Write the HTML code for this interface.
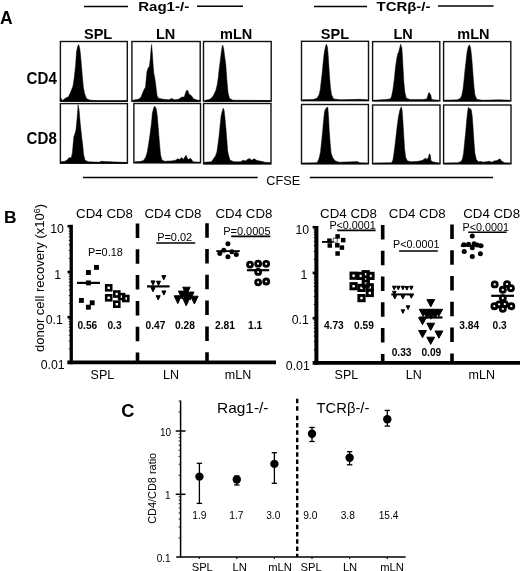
<!DOCTYPE html><html><head><meta charset="utf-8"><title>Figure</title>
<style>html,body{margin:0;padding:0;background:#fff;}svg{display:block;will-change:transform;}text{font-family:"Liberation Sans",sans-serif;fill:#000;}line{stroke:#000;}</style></head><body>
<svg width="520" height="571" viewBox="0 0 520 571">
<text x="0.0" y="24.4" font-size="17.5" font-weight="bold">A</text>
<line x1="84" y1="6.5" x2="128" y2="6.5" stroke-width="1.5"/>
<text x="138.2" y="11.1" font-size="13.6" font-weight="bold" textLength="51" lengthAdjust="spacingAndGlyphs">Rag1-/-</text>
<line x1="197" y1="6.2" x2="243" y2="6.2" stroke-width="1.5"/>
<line x1="314" y1="6.5" x2="367" y2="6.5" stroke-width="1.5"/>
<text x="376.5" y="11.4" font-size="13.6" font-weight="bold" textLength="54" lengthAdjust="spacingAndGlyphs">TCR&#946;-/-</text>
<line x1="438" y1="6.0" x2="493.5" y2="6.0" stroke-width="1.5"/>
<text x="84" y="39.4" font-size="14.5" font-weight="bold">SPL</text>
<text x="156" y="39.4" font-size="14.5" font-weight="bold">LN</text>
<text x="220" y="39.4" font-size="14.5" font-weight="bold">mLN</text>
<text x="320.8" y="39.4" font-size="14.5" font-weight="bold">SPL</text>
<text x="393.5" y="39.4" font-size="14.5" font-weight="bold">LN</text>
<text x="457.3" y="39.4" font-size="14.5" font-weight="bold">mLN</text>
<text x="26.6" y="83.7" font-size="15.8" font-weight="bold" textLength="30.2" lengthAdjust="spacingAndGlyphs">CD4</text>
<text x="26.6" y="143.5" font-size="15.8" font-weight="bold" textLength="30.2" lengthAdjust="spacingAndGlyphs">CD8</text>
<rect x="60.4" y="41.5" width="66.9" height="59.7" fill="none" stroke="#111" stroke-width="1.4"/>
<rect x="131.9" y="41.5" width="68.3" height="59.7" fill="none" stroke="#111" stroke-width="1.4"/>
<rect x="203.5" y="41.5" width="67.7" height="59.7" fill="none" stroke="#111" stroke-width="1.4"/>
<rect x="60.4" y="103.6" width="67.0" height="59.6" fill="none" stroke="#111" stroke-width="1.4"/>
<rect x="133.9" y="103.5" width="66.6" height="59.3" fill="none" stroke="#111" stroke-width="1.4"/>
<rect x="203.6" y="103.5" width="67.4" height="60.4" fill="none" stroke="#111" stroke-width="1.4"/>
<rect x="301.5" y="41.3" width="67.0" height="59.3" fill="none" stroke="#111" stroke-width="1.4"/>
<rect x="372.6" y="41.6" width="67.2" height="59.3" fill="none" stroke="#111" stroke-width="1.4"/>
<rect x="443.6" y="41.6" width="67.2" height="59.4" fill="none" stroke="#111" stroke-width="1.4"/>
<rect x="301.5" y="104.5" width="66.9" height="59.3" fill="none" stroke="#111" stroke-width="1.4"/>
<rect x="372.6" y="105.0" width="67.4" height="58.8" fill="none" stroke="#111" stroke-width="1.4"/>
<rect x="443.6" y="105.0" width="67.4" height="58.8" fill="none" stroke="#111" stroke-width="1.4"/>
<line x1="83" y1="177.5" x2="257.7" y2="177.5" stroke-width="1.5"/>
<text x="266.3" y="185.2" font-size="12.7">CFSE</text>
<line x1="309.8" y1="177.5" x2="493" y2="177.5" stroke-width="1.5"/>
<path d="M60.4,101.2 L60.4,97.4 L62.4,100.5 L65.7,98 L68.5,96.8 L70.7,91.9 L72.9,86.4 L74.3,77.5 L75.6,65.4 L76.5,52.1 L77.6,46.6 L78.7,44.6 L79.8,48.8 L80.6,55.5 L81.3,64 L81.8,70 L82.5,78.6 L83.3,86.4 L84.4,93 L86.4,98.5 L90,100.2 L98,100.7 L127,100.7 L127,101.2 Z" fill="#000" stroke="#000" stroke-width="0.5" stroke-linejoin="round"/>
<path d="M132.8,101.2 L132.8,100.2 L138.3,99.3 L140.8,97.5 L142.5,93.3 L143.9,89.9 L145.5,87.1 L146.3,78.8 L146.9,71.9 L148,68.4 L149.4,66.3 L150.4,58 L151.1,48.3 L151.6,44.4 L152.4,53.9 L153.1,64.9 L153.8,73.2 L154.9,78.8 L156,87.1 L157,95.4 L158.4,98.2 L163.2,99.3 L168.8,99.8 L171.5,98.4 L174.3,99.8 L178.5,99.3 L181.9,97.1 L184.3,97.1 L185.4,93.3 L186.5,90.6 L187.9,90.6 L188.9,94 L190.2,94.7 L191.6,96.1 L193.7,98.9 L197.9,100.2 L200,100.5 L200,101.2 Z" fill="#000" stroke="#000" stroke-width="0.5" stroke-linejoin="round"/>
<path d="M205.2,101.2 L205.2,100.2 L209.3,99.6 L212.1,97.5 L214.2,94 L216,89.9 L217.3,84.3 L218.3,77.4 L219,70.5 L220.1,62.2 L221.1,53.9 L222.1,46.9 L222.7,45.1 L223.6,48.3 L224.5,55.2 L225.7,63.5 L226.3,71.9 L227,81.6 L228,92.6 L229.4,98.2 L232.9,100.2 L270.3,100.5 L270.3,101.2 Z" fill="#000" stroke="#000" stroke-width="0.5" stroke-linejoin="round"/>
<path d="M60.8,163.2 L60.8,161.8 L64.9,161.3 L67.7,159.5 L69.1,157.4 L70.5,158.1 L71.6,156.7 L72.5,151.9 L73.2,143.6 L73.9,136.6 L74.9,133.9 L76,129.7 L77.1,118.6 L78.1,104.8 L79.1,110.3 L79.9,120 L80.9,129.7 L81.8,138 L82.7,144.9 L83.6,154.6 L85,160.2 L88.5,161.8 L99.6,162.2 L100.9,161.3 L105.1,161.6 L127.3,162.5 L127.3,163.2 Z" fill="#000" stroke="#000" stroke-width="0.5" stroke-linejoin="round"/>
<path d="M134.8,162.8 L134.8,161.8 L141.1,161.3 L143.9,160.2 L145.9,156.7 L147.3,151.9 L148.7,143.6 L150.1,133.9 L151.5,122.8 L152.4,113.1 L153.8,107.5 L154.9,106.2 L156.3,108.9 L157.4,117.2 L158.4,129.7 L159.4,142.2 L160.5,154.6 L161.9,159.9 L164.6,161.3 L171.5,160.9 L175.7,160.2 L177.8,158.8 L179.9,159.5 L181.5,157.4 L183.3,159.5 L185.1,156.7 L186.1,155.3 L187.5,158.8 L188.9,159.5 L190.2,158.1 L191.6,159.5 L193,161.8 L199.9,162.2 L199.9,162.8 Z" fill="#000" stroke="#000" stroke-width="0.5" stroke-linejoin="round"/>
<path d="M204.5,163.9 L204.5,162.2 L211.4,161.8 L213.5,158.8 L215.5,156 L216.9,151.9 L217.9,144.9 L219,136.6 L220.1,125.5 L221.1,115.9 L222.1,111.7 L223.2,108.2 L224.1,110.3 L225,118.6 L225.9,128.3 L226.8,139.4 L227.6,150.5 L228.7,156 L230.1,160.2 L234.2,161.8 L241.2,161.8 L242.6,160.2 L245.3,160.9 L247.4,159.5 L249.5,158.5 L251.6,160.2 L254.3,158.8 L256.4,160.2 L259.2,160.9 L262.6,161.6 L264.7,162.2 L270.3,162.5 L270.3,163.9 Z" fill="#000" stroke="#000" stroke-width="0.5" stroke-linejoin="round"/>
<path d="M302.5,100.6 L302.5,99.8 L312.9,99.6 L317,98.2 L319.1,94.7 L320.2,89.9 L321.2,81.6 L322.3,71.9 L323.2,62.2 L324.3,52.5 L325.6,46.2 L326.4,44.2 L327.4,46.9 L328.1,53.9 L328.8,64.9 L329.5,76 L330.4,87.1 L331.5,94.7 L333.6,98.9 L340.5,99.8 L359.9,99.3 L367.6,99.8 L367.6,100.6 Z" fill="#000" stroke="#000" stroke-width="0.5" stroke-linejoin="round"/>
<path d="M373.5,100.9 L373.5,100.2 L385.2,99.6 L390.1,98.9 L391.5,96.8 L392.9,89.9 L394.2,80.2 L395.3,69.1 L396.6,59.4 L397.7,53.9 L398.8,51.8 L399.8,47.6 L400.7,44.2 L401.9,48.3 L402.5,58 L403.2,70.5 L403.9,82.9 L404.9,92.6 L406.3,98.2 L410.2,99.6 L422.6,99.6 L426.8,98.9 L427.9,95.4 L428.9,92.6 L429.8,93.3 L430.9,95.4 L431.6,99.6 L438.6,100.2 L438.6,100.9 Z" fill="#000" stroke="#000" stroke-width="0.5" stroke-linejoin="round"/>
<path d="M444.5,101.0 L444.5,100.2 L457.6,99.8 L460.4,98.2 L461.8,95.4 L462.9,89.9 L463.9,81.6 L464.8,71.9 L465.9,62.2 L467,52.5 L468.1,46.9 L469.4,44.8 L470.5,47.6 L471.5,55.2 L472.3,64.9 L473.1,76 L474,87.1 L474.9,94.7 L476.7,99.3 L482.6,100.2 L499.2,99.8 L509.6,100.2 L509.6,101.0 Z" fill="#000" stroke="#000" stroke-width="0.5" stroke-linejoin="round"/>
<path d="M302.5,163.8 L302.5,162.9 L317,162.7 L318.4,160.2 L319.5,156.7 L320.5,151.9 L321.4,143.6 L322.5,132.5 L323.5,121.4 L324.5,111.7 L325.6,108.9 L326.7,107.5 L327.8,107.3 L328.5,115.9 L329.2,129.7 L330.2,143.6 L331.1,153.2 L332.9,158.1 L335.3,160.9 L339.2,162.2 L353,161.8 L357.2,161.6 L359.9,162.7 L367.6,162.9 L367.6,163.8 Z" fill="#000" stroke="#000" stroke-width="0.5" stroke-linejoin="round"/>
<path d="M373.5,163.8 L373.5,162.9 L391.5,162.7 L392.9,160.2 L393.8,154.6 L394.9,146.3 L396,136.6 L397.1,126.9 L398.4,117.2 L399.8,110.3 L401.2,106.8 L402.1,110.3 L403,122.8 L403.8,136.6 L404.6,149.1 L405.7,157.4 L407.4,160.9 L411.6,161.8 L418.5,161.3 L422.6,160.2 L424.7,158.8 L425.7,158.1 L426.8,159.5 L428.2,158.1 L429.3,153.9 L430.2,154.6 L430.9,160.2 L432.3,161.8 L439.3,162.9 L439.3,163.8 Z" fill="#000" stroke="#000" stroke-width="0.5" stroke-linejoin="round"/>
<path d="M444.5,163.8 L444.5,162.9 L457.6,162.7 L461.1,161.6 L462.5,158.8 L463.6,153.2 L464.5,143.6 L465.7,132.5 L466.6,121.4 L467.6,111.7 L468.4,107.5 L469.4,108.2 L470.4,108.9 L471.2,109.6 L472.2,115.9 L473.1,128.3 L474,142.2 L474.9,153.2 L476.3,159.5 L478.4,161.8 L481.9,161.6 L482.8,162.2 L489.5,161.3 L491.6,162.2 L494.3,160.9 L497.1,160.5 L499.9,158.8 L502,161.6 L504.7,162.7 L510.3,162.9 L510.3,163.8 Z" fill="#000" stroke="#000" stroke-width="0.5" stroke-linejoin="round"/>
<text x="4.1" y="222.5" font-size="17.4" font-weight="bold">B</text>
<text transform="translate(44.2,352) rotate(-90)" font-size="12.6" textLength="148" lengthAdjust="spacingAndGlyphs">donor cell recovery (x10<tspan dy="-4.5" font-size="8.5">6</tspan><tspan dy="4.5">)</tspan></text>
<line x1="71.25" y1="224.8" x2="71.25" y2="364.2" stroke-width="3.3"/>
<line x1="67.3" y1="362.3" x2="276" y2="362.3" stroke-width="3.8"/>
<line x1="316.4" y1="226.0" x2="316.4" y2="364.7" stroke-width="4.0"/>
<line x1="312.6" y1="362.8" x2="520" y2="362.8" stroke-width="3.8"/>
<line x1="67.5" y1="226.2" x2="71" y2="226.2" stroke-width="2.6"/>
<line x1="67.5" y1="272" x2="71" y2="272" stroke-width="2.6"/>
<line x1="67.5" y1="317.2" x2="71" y2="317.2" stroke-width="2.6"/>
<line x1="312.6" y1="227.2" x2="316" y2="227.2" stroke-width="2.6"/>
<line x1="312.6" y1="272.9" x2="316" y2="272.9" stroke-width="2.6"/>
<line x1="312.6" y1="318.2" x2="316" y2="318.2" stroke-width="2.6"/>
<line x1="68.8" y1="258.393444195988" x2="70" y2="258.393444195988" stroke-width="1.0"/>
<line x1="68.8" y1="250.43411928667126" x2="70" y2="250.43411928667126" stroke-width="1.0"/>
<line x1="68.8" y1="244.7868883919761" x2="70" y2="244.7868883919761" stroke-width="1.0"/>
<line x1="68.8" y1="240.40655580401193" x2="70" y2="240.40655580401193" stroke-width="1.0"/>
<line x1="68.8" y1="236.82756348265931" x2="70" y2="236.82756348265931" stroke-width="1.0"/>
<line x1="68.8" y1="233.8015685913556" x2="70" y2="233.8015685913556" stroke-width="1.0"/>
<line x1="68.8" y1="231.18033258796416" x2="70" y2="231.18033258796416" stroke-width="1.0"/>
<line x1="68.8" y1="228.86823857334252" x2="70" y2="228.86823857334252" stroke-width="1.0"/>
<line x1="68.8" y1="303.593444195988" x2="70" y2="303.593444195988" stroke-width="1.0"/>
<line x1="68.8" y1="295.63411928667125" x2="70" y2="295.63411928667125" stroke-width="1.0"/>
<line x1="68.8" y1="289.9868883919761" x2="70" y2="289.9868883919761" stroke-width="1.0"/>
<line x1="68.8" y1="285.6065558040119" x2="70" y2="285.6065558040119" stroke-width="1.0"/>
<line x1="68.8" y1="282.0275634826593" x2="70" y2="282.0275634826593" stroke-width="1.0"/>
<line x1="68.8" y1="279.0015685913556" x2="70" y2="279.0015685913556" stroke-width="1.0"/>
<line x1="68.8" y1="276.3803325879641" x2="70" y2="276.3803325879641" stroke-width="1.0"/>
<line x1="68.8" y1="274.0682385733425" x2="70" y2="274.0682385733425" stroke-width="1.0"/>
<line x1="68.8" y1="348.793444195988" x2="70" y2="348.793444195988" stroke-width="1.0"/>
<line x1="68.8" y1="340.83411928667124" x2="70" y2="340.83411928667124" stroke-width="1.0"/>
<line x1="68.8" y1="335.1868883919761" x2="70" y2="335.1868883919761" stroke-width="1.0"/>
<line x1="68.8" y1="330.8065558040119" x2="70" y2="330.8065558040119" stroke-width="1.0"/>
<line x1="68.8" y1="327.22756348265926" x2="70" y2="327.22756348265926" stroke-width="1.0"/>
<line x1="68.8" y1="324.20156859135557" x2="70" y2="324.20156859135557" stroke-width="1.0"/>
<line x1="68.8" y1="321.5803325879641" x2="70" y2="321.5803325879641" stroke-width="1.0"/>
<line x1="68.8" y1="319.2682385733425" x2="70" y2="319.2682385733425" stroke-width="1.0"/>
<line x1="313.8" y1="259.293444195988" x2="315" y2="259.293444195988" stroke-width="1.0"/>
<line x1="313.8" y1="251.33411928667124" x2="315" y2="251.33411928667124" stroke-width="1.0"/>
<line x1="313.8" y1="245.68688839197608" x2="315" y2="245.68688839197608" stroke-width="1.0"/>
<line x1="313.8" y1="241.3065558040119" x2="315" y2="241.3065558040119" stroke-width="1.0"/>
<line x1="313.8" y1="237.7275634826593" x2="315" y2="237.7275634826593" stroke-width="1.0"/>
<line x1="313.8" y1="234.70156859135557" x2="315" y2="234.70156859135557" stroke-width="1.0"/>
<line x1="313.8" y1="232.08033258796414" x2="315" y2="232.08033258796414" stroke-width="1.0"/>
<line x1="313.8" y1="229.7682385733425" x2="315" y2="229.7682385733425" stroke-width="1.0"/>
<line x1="313.8" y1="304.49344419598805" x2="315" y2="304.49344419598805" stroke-width="1.0"/>
<line x1="313.8" y1="296.5341192866713" x2="315" y2="296.5341192866713" stroke-width="1.0"/>
<line x1="313.8" y1="290.88688839197613" x2="315" y2="290.88688839197613" stroke-width="1.0"/>
<line x1="313.8" y1="286.50655580401195" x2="315" y2="286.50655580401195" stroke-width="1.0"/>
<line x1="313.8" y1="282.9275634826593" x2="315" y2="282.9275634826593" stroke-width="1.0"/>
<line x1="313.8" y1="279.9015685913556" x2="315" y2="279.9015685913556" stroke-width="1.0"/>
<line x1="313.8" y1="277.28033258796415" x2="315" y2="277.28033258796415" stroke-width="1.0"/>
<line x1="313.8" y1="274.96823857334255" x2="315" y2="274.96823857334255" stroke-width="1.0"/>
<line x1="313.8" y1="349.69344419598804" x2="315" y2="349.69344419598804" stroke-width="1.0"/>
<line x1="313.8" y1="341.7341192866713" x2="315" y2="341.7341192866713" stroke-width="1.0"/>
<line x1="313.8" y1="336.0868883919761" x2="315" y2="336.0868883919761" stroke-width="1.0"/>
<line x1="313.8" y1="331.70655580401194" x2="315" y2="331.70655580401194" stroke-width="1.0"/>
<line x1="313.8" y1="328.1275634826593" x2="315" y2="328.1275634826593" stroke-width="1.0"/>
<line x1="313.8" y1="325.1015685913556" x2="315" y2="325.1015685913556" stroke-width="1.0"/>
<line x1="313.8" y1="322.48033258796414" x2="315" y2="322.48033258796414" stroke-width="1.0"/>
<line x1="313.8" y1="320.16823857334253" x2="315" y2="320.16823857334253" stroke-width="1.0"/>
<text x="63.9" y="232.8" font-size="12.3" text-anchor="end">10</text>
<text x="61.0" y="278.6" font-size="12.3" text-anchor="end">1</text>
<text x="62.9" y="323.8" font-size="12.3" text-anchor="end">0.1</text>
<text x="64.6" y="369.0" font-size="12.3" text-anchor="end">0.01</text>
<text x="309.1" y="233.8" font-size="12.3" text-anchor="end">10</text>
<text x="307.3" y="279.4" font-size="12.3" text-anchor="end">1</text>
<text x="308.9" y="324.4" font-size="12.3" text-anchor="end">0.1</text>
<text x="309.8" y="369.5" font-size="12.3" text-anchor="end">0.01</text>
<line x1="137.5" y1="223.5" x2="137.5" y2="361" stroke-width="3.6" stroke-dasharray="14.5 11.3"/>
<line x1="207.0" y1="223.2" x2="207.0" y2="361" stroke-width="3.6" stroke-dasharray="14.5 11.3"/>
<line x1="382.7" y1="224.9" x2="382.7" y2="361" stroke-width="3.6" stroke-dasharray="14.5 11.3"/>
<line x1="452.0" y1="224.4" x2="452.0" y2="361" stroke-width="3.6" stroke-dasharray="14.5 11.3"/>
<text x="76.1" y="217.9" font-size="13.3">CD4 CD8</text>
<text x="144.5" y="217.9" font-size="13.3">CD4 CD8</text>
<text x="215.5" y="217.9" font-size="13.3">CD4 CD8</text>
<text x="320.1" y="218.1" font-size="13.3">CD4 CD8</text>
<text x="388.8" y="218.1" font-size="13.3">CD4 CD8</text>
<text x="463.20000000000005" y="218.1" font-size="13.3">CD4 CD8</text>
<text x="88.0" y="255.9" font-size="10.9">P=0.18</text>
<text x="157.2" y="241.0" font-size="10.95">P=0.02</text>
<line x1="156.3" y1="243.0" x2="195.3" y2="243.0" stroke-width="1.6"/>
<text x="223.2" y="234.8" font-size="11.0">P=0.0005</text>
<line x1="231.2" y1="236.4" x2="270.3" y2="236.4" stroke-width="1.6"/>
<text x="329.4" y="228.6" font-size="10.75">P&lt;0.0001</text>
<line x1="337.2" y1="230.4" x2="375.6" y2="230.4" stroke-width="1.6"/>
<text x="393.1" y="247.6" font-size="10.75">P&lt;0.0001</text>
<line x1="399.1" y1="251.0" x2="437.8" y2="251.0" stroke-width="1.6"/>
<text x="462.6" y="230.5" font-size="10.8">P&lt;0.0001</text>
<line x1="468.2" y1="232.2" x2="506.5" y2="232.2" stroke-width="1.6"/>
<text x="77.4" y="328.9" font-size="10.2" font-weight="bold">0.56</text>
<text x="107.4" y="328.9" font-size="10.2" font-weight="bold">0.3</text>
<text x="145.5" y="328.9" font-size="10.2" font-weight="bold">0.47</text>
<text x="175.0" y="328.9" font-size="10.2" font-weight="bold">0.28</text>
<text x="215.0" y="328.9" font-size="10.2" font-weight="bold">2.81</text>
<text x="248.0" y="328.9" font-size="10.2" font-weight="bold">1.1</text>
<text x="323.9" y="329.0" font-size="10.2" font-weight="bold">4.73</text>
<text x="354.1" y="329.0" font-size="10.2" font-weight="bold">0.59</text>
<text x="391.7" y="356.1" font-size="10.2" font-weight="bold">0.33</text>
<text x="421.4" y="356.1" font-size="10.2" font-weight="bold">0.09</text>
<text x="459.3" y="329.0" font-size="10.2" font-weight="bold">3.84</text>
<text x="492.5" y="329.0" font-size="10.2" font-weight="bold">0.3</text>
<text x="90.6" y="379.2" font-size="12.5">SPL</text>
<text x="163.0" y="379.2" font-size="12.5">LN</text>
<text x="224.8" y="379.2" font-size="12.5">mLN</text>
<text x="334.6" y="379.4" font-size="12.5">SPL</text>
<text x="405.8" y="379.4" font-size="12.5">LN</text>
<text x="468.6" y="379.4" font-size="12.5">mLN</text>
<line x1="77" y1="282.9" x2="99.9" y2="282.9" stroke-width="2.2"/>
<rect x="94.05" y="264.95" width="4.9" height="4.9" fill="#000"/>
<rect x="85.95" y="270.05" width="4.9" height="4.9" fill="#000"/>
<rect x="85.95" y="280.45" width="4.9" height="4.9" fill="#000"/>
<rect x="78.95" y="297.95" width="4.9" height="4.9" fill="#000"/>
<rect x="89.75" y="300.35" width="4.9" height="4.9" fill="#000"/>
<rect x="85.95" y="304.75" width="4.9" height="4.9" fill="#000"/>
<rect x="106.20" y="285.30" width="5.00" height="5.00" fill="none" stroke="#000" stroke-width="2.6"/>
<rect x="106.20" y="295.30" width="5.00" height="5.00" fill="none" stroke="#000" stroke-width="2.6"/>
<rect x="114.30" y="291.50" width="5.00" height="5.00" fill="none" stroke="#000" stroke-width="2.6"/>
<rect x="119.10" y="294.10" width="5.00" height="5.00" fill="none" stroke="#000" stroke-width="2.6"/>
<rect x="123.30" y="296.00" width="5.00" height="5.00" fill="none" stroke="#000" stroke-width="2.6"/>
<rect x="114.30" y="301.70" width="5.00" height="5.00" fill="none" stroke="#000" stroke-width="2.6"/>
<rect x="113.1" y="298.5" width="4.2" height="1.5" fill="#fff"/>
<line x1="147" y1="286.4" x2="169.6" y2="286.4" stroke-width="2.2"/>
<path d="M161.80,275.60 L165.80,275.60 L163.80,279.80 Z" fill="#000" stroke="#000" stroke-width="1.0" stroke-linejoin="round"/>
<path d="M151.00,280.90 L155.00,280.90 L153.00,285.10 Z" fill="#000" stroke="#000" stroke-width="1.0" stroke-linejoin="round"/>
<path d="M156.50,281.20 L160.50,281.20 L158.50,285.40 Z" fill="#000" stroke="#000" stroke-width="1.0" stroke-linejoin="round"/>
<path d="M151.00,287.60 L155.00,287.60 L153.00,291.80 Z" fill="#000" stroke="#000" stroke-width="1.0" stroke-linejoin="round"/>
<path d="M161.90,290.90 L165.90,290.90 L163.90,295.10 Z" fill="#000" stroke="#000" stroke-width="1.0" stroke-linejoin="round"/>
<path d="M156.20,295.70 L160.20,295.70 L158.20,299.90 Z" fill="#000" stroke="#000" stroke-width="1.0" stroke-linejoin="round"/>
<path d="M182.70,287.20 L190.10,287.20 L186.40,295.00 Z" fill="#000" stroke="#000" stroke-width="1.0" stroke-linejoin="round"/>
<path d="M178.40,291.10 L185.80,291.10 L182.10,298.90 Z" fill="#000" stroke="#000" stroke-width="1.0" stroke-linejoin="round"/>
<path d="M186.60,292.10 L194.00,292.10 L190.30,299.90 Z" fill="#000" stroke="#000" stroke-width="1.0" stroke-linejoin="round"/>
<path d="M174.10,295.80 L181.50,295.80 L177.80,303.60 Z" fill="#000" stroke="#000" stroke-width="1.0" stroke-linejoin="round"/>
<path d="M190.70,296.20 L198.10,296.20 L194.40,304.00 Z" fill="#000" stroke="#000" stroke-width="1.0" stroke-linejoin="round"/>
<path d="M182.50,297.90 L189.90,297.90 L186.20,305.70 Z" fill="#000" stroke="#000" stroke-width="1.0" stroke-linejoin="round"/>
<path d="M182.50,293.50 L189.90,293.50 L186.20,301.30 Z" fill="#000" stroke="#000" stroke-width="1.0" stroke-linejoin="round"/>
<line x1="216.3" y1="251.1" x2="239.8" y2="251.1" stroke-width="1.8"/>
<circle cx="227.9" cy="243.7" r="2.5" fill="#000"/>
<circle cx="223.8" cy="250.3" r="2.5" fill="#000"/>
<circle cx="231.9" cy="251.7" r="2.5" fill="#000"/>
<circle cx="219.8" cy="253.5" r="2.5" fill="#000"/>
<circle cx="236.3" cy="254.6" r="2.5" fill="#000"/>
<circle cx="227.9" cy="256.7" r="2.5" fill="#000"/>
<line x1="246.9" y1="270.2" x2="269.2" y2="270.2" stroke-width="2.2"/>
<circle cx="250" cy="264.6" r="2.5" fill="none" stroke="#000" stroke-width="2.8"/>
<circle cx="258.1" cy="263.7" r="2.5" fill="none" stroke="#000" stroke-width="2.8"/>
<circle cx="266.2" cy="263.8" r="2.5" fill="none" stroke="#000" stroke-width="2.8"/>
<circle cx="258.1" cy="271.9" r="2.5" fill="none" stroke="#000" stroke-width="2.8"/>
<circle cx="258.1" cy="282.3" r="2.5" fill="none" stroke="#000" stroke-width="2.8"/>
<circle cx="266.2" cy="281.5" r="2.5" fill="none" stroke="#000" stroke-width="2.8"/>
<line x1="322.0" y1="241.9" x2="334" y2="241.9" stroke-width="1.8"/>
<rect x="333.3" y="238.1" width="4" height="4" fill="none" stroke="#666" stroke-width="1"/>
<rect x="335.35" y="234.15" width="4.5" height="4.5" fill="#000"/>
<rect x="327.15" y="238.45" width="4.5" height="4.5" fill="#000"/>
<rect x="340.95" y="237.85" width="4.5" height="4.5" fill="#000"/>
<rect x="327.55" y="243.25" width="4.5" height="4.5" fill="#000"/>
<rect x="335.05" y="243.05" width="4.5" height="4.5" fill="#000"/>
<rect x="339.65" y="245.35" width="4.5" height="4.5" fill="#000"/>
<rect x="335.35" y="251.25" width="4.5" height="4.5" fill="#000"/>
<rect x="350.95" y="273.05" width="5.30" height="5.30" fill="none" stroke="#000" stroke-width="2.9"/>
<rect x="358.15" y="273.25" width="5.30" height="5.30" fill="none" stroke="#000" stroke-width="2.9"/>
<rect x="367.85" y="273.25" width="5.30" height="5.30" fill="none" stroke="#000" stroke-width="2.9"/>
<rect x="363.05" y="271.55" width="5.30" height="5.30" fill="none" stroke="#000" stroke-width="2.9"/>
<rect x="350.95" y="283.55" width="5.30" height="5.30" fill="none" stroke="#000" stroke-width="2.9"/>
<rect x="358.85" y="285.25" width="5.30" height="5.30" fill="none" stroke="#000" stroke-width="2.9"/>
<rect x="367.15" y="284.65" width="5.30" height="5.30" fill="none" stroke="#000" stroke-width="2.9"/>
<rect x="363.15" y="281.05" width="5.30" height="5.30" fill="none" stroke="#000" stroke-width="2.9"/>
<rect x="367.15" y="290.35" width="5.30" height="5.30" fill="none" stroke="#000" stroke-width="2.9"/>
<rect x="358.85" y="295.45" width="5.30" height="5.30" fill="none" stroke="#000" stroke-width="2.9"/>
<line x1="391.3" y1="294.4" x2="413.8" y2="294.4" stroke-width="2.0"/>
<path d="M392.40,286.20 L396.00,286.20 L394.20,289.80 Z" fill="#000" stroke="#000" stroke-width="1.0" stroke-linejoin="round"/>
<path d="M396.50,286.20 L400.10,286.20 L398.30,289.80 Z" fill="#000" stroke="#000" stroke-width="1.0" stroke-linejoin="round"/>
<path d="M401.10,286.20 L404.70,286.20 L402.90,289.80 Z" fill="#000" stroke="#000" stroke-width="1.0" stroke-linejoin="round"/>
<path d="M405.10,286.50 L408.70,286.50 L406.90,290.10 Z" fill="#000" stroke="#000" stroke-width="1.0" stroke-linejoin="round"/>
<path d="M409.50,286.20 L413.10,286.20 L411.30,289.80 Z" fill="#000" stroke="#000" stroke-width="1.0" stroke-linejoin="round"/>
<path d="M393.00,295.40 L396.60,295.40 L394.80,299.00 Z" fill="#000" stroke="#000" stroke-width="1.0" stroke-linejoin="round"/>
<path d="M401.10,295.40 L404.70,295.40 L402.90,299.00 Z" fill="#000" stroke="#000" stroke-width="1.0" stroke-linejoin="round"/>
<path d="M406.20,305.80 L409.80,305.80 L408.00,309.40 Z" fill="#000" stroke="#000" stroke-width="1.0" stroke-linejoin="round"/>
<path d="M401.10,309.80 L404.70,309.80 L402.90,313.40 Z" fill="#000" stroke="#000" stroke-width="1.0" stroke-linejoin="round"/>
<path d="M392.50,291.30 L396.10,291.30 L394.30,294.90 Z" fill="#000" stroke="#000" stroke-width="1.0" stroke-linejoin="round"/>
<path d="M409.50,294.60 L413.10,294.60 L411.30,298.20 Z" fill="#000" stroke="#000" stroke-width="1.0" stroke-linejoin="round"/>
<line x1="419.5" y1="317.5" x2="442.5" y2="317.5" stroke-width="2.2"/>
<path d="M426.90,299.60 L434.70,299.60 L430.80,306.80 Z" fill="#000" stroke="#000" stroke-width="1.0" stroke-linejoin="round"/>
<path d="M419.30,309.30 L427.10,309.30 L423.20,316.50 Z" fill="#000" stroke="#000" stroke-width="1.0" stroke-linejoin="round"/>
<path d="M427.10,309.30 L434.90,309.30 L431.00,316.50 Z" fill="#000" stroke="#000" stroke-width="1.0" stroke-linejoin="round"/>
<path d="M434.80,309.30 L442.60,309.30 L438.70,316.50 Z" fill="#000" stroke="#000" stroke-width="1.0" stroke-linejoin="round"/>
<path d="M418.60,317.50 L426.40,317.50 L422.50,324.70 Z" fill="#000" stroke="#000" stroke-width="1.0" stroke-linejoin="round"/>
<path d="M426.80,323.20 L434.60,323.20 L430.70,330.40 Z" fill="#000" stroke="#000" stroke-width="1.0" stroke-linejoin="round"/>
<path d="M418.60,330.50 L426.40,330.50 L422.50,337.70 Z" fill="#000" stroke="#000" stroke-width="1.0" stroke-linejoin="round"/>
<path d="M435.00,331.00 L442.80,331.00 L438.90,338.20 Z" fill="#000" stroke="#000" stroke-width="1.0" stroke-linejoin="round"/>
<path d="M426.80,337.20 L434.60,337.20 L430.70,344.40 Z" fill="#000" stroke="#000" stroke-width="1.0" stroke-linejoin="round"/>
<path d="M426.90,312.00 L434.70,312.00 L430.80,319.20 Z" fill="#000" stroke="#000" stroke-width="1.0" stroke-linejoin="round"/>
<path d="M423.10,311.00 L430.90,311.00 L427.00,318.20 Z" fill="#000" stroke="#000" stroke-width="1.0" stroke-linejoin="round"/>
<path d="M431.10,311.00 L438.90,311.00 L435.00,318.20 Z" fill="#000" stroke="#000" stroke-width="1.0" stroke-linejoin="round"/>
<line x1="460.8" y1="245.8" x2="483.5" y2="245.8" stroke-width="2.0"/>
<circle cx="472.3" cy="236" r="2.5" fill="#000"/>
<circle cx="463.8" cy="244.8" r="2.5" fill="#000"/>
<circle cx="468.5" cy="244.2" r="2.5" fill="#000"/>
<circle cx="474.1" cy="243.8" r="2.5" fill="#000"/>
<circle cx="477.3" cy="245" r="2.5" fill="#000"/>
<circle cx="480.8" cy="245.8" r="2.5" fill="#000"/>
<circle cx="472.3" cy="247.7" r="2.5" fill="#000"/>
<circle cx="464.2" cy="251.4" r="2.5" fill="#000"/>
<circle cx="480.4" cy="253.8" r="2.5" fill="#000"/>
<circle cx="472.3" cy="256.5" r="2.5" fill="#000"/>
<line x1="491.2" y1="295.8" x2="514" y2="295.8" stroke-width="2.2"/>
<circle cx="494.7" cy="284.4" r="2.55" fill="none" stroke="#000" stroke-width="2.8"/>
<circle cx="507" cy="284.1" r="2.55" fill="none" stroke="#000" stroke-width="2.8"/>
<circle cx="502.8" cy="289.8" r="2.55" fill="none" stroke="#000" stroke-width="2.8"/>
<circle cx="510.9" cy="288.2" r="2.55" fill="none" stroke="#000" stroke-width="2.8"/>
<circle cx="502.8" cy="298.1" r="2.55" fill="none" stroke="#000" stroke-width="2.8"/>
<circle cx="494.4" cy="306.2" r="2.55" fill="none" stroke="#000" stroke-width="2.8"/>
<circle cx="499.1" cy="304.4" r="2.55" fill="none" stroke="#000" stroke-width="2.8"/>
<circle cx="504.8" cy="304.2" r="2.55" fill="none" stroke="#000" stroke-width="2.8"/>
<circle cx="511.3" cy="306.2" r="2.55" fill="none" stroke="#000" stroke-width="2.8"/>
<circle cx="502.8" cy="308.8" r="2.55" fill="none" stroke="#000" stroke-width="2.8"/>
<text x="121.3" y="417.0" font-size="18.2" font-weight="bold">C</text>
<text x="217.0" y="413.0" font-size="15" textLength="51.5" lengthAdjust="spacingAndGlyphs">Rag1-/-</text>
<text x="316.6" y="413.3" font-size="15" textLength="52.8" lengthAdjust="spacingAndGlyphs">TCR&#946;-/-</text>
<line x1="180.6" y1="400.5" x2="180.6" y2="557.6" stroke-width="1.5"/>
<line x1="176.2" y1="557.0" x2="405.6" y2="557.0" stroke-width="1.4"/>
<line x1="175.7" y1="431.0" x2="185.5" y2="431.0" stroke-width="1.5"/>
<line x1="175.7" y1="494.3" x2="185.5" y2="494.3" stroke-width="1.5"/>
<line x1="178.6" y1="475.3351102731692" x2="180" y2="475.3351102731692" stroke-width="0.9"/>
<line x1="178.6" y1="464.2413609526613" x2="180" y2="464.2413609526613" stroke-width="0.9"/>
<line x1="178.6" y1="456.3702205463384" x2="180" y2="456.3702205463384" stroke-width="0.9"/>
<line x1="178.6" y1="450.2648897268308" x2="180" y2="450.2648897268308" stroke-width="0.9"/>
<line x1="178.6" y1="445.27647122583045" x2="180" y2="445.27647122583045" stroke-width="0.9"/>
<line x1="178.6" y1="441.0588234791018" x2="180" y2="441.0588234791018" stroke-width="0.9"/>
<line x1="178.6" y1="437.4053308195076" x2="180" y2="437.4053308195076" stroke-width="0.9"/>
<line x1="178.6" y1="434.1827219053225" x2="180" y2="434.1827219053225" stroke-width="0.9"/>
<line x1="178.6" y1="538.0351102731692" x2="180" y2="538.0351102731692" stroke-width="0.9"/>
<line x1="178.6" y1="526.9413609526613" x2="180" y2="526.9413609526613" stroke-width="0.9"/>
<line x1="178.6" y1="519.0702205463384" x2="180" y2="519.0702205463384" stroke-width="0.9"/>
<line x1="178.6" y1="512.9648897268308" x2="180" y2="512.9648897268308" stroke-width="0.9"/>
<line x1="178.6" y1="507.97647122583044" x2="180" y2="507.97647122583044" stroke-width="0.9"/>
<line x1="178.6" y1="503.7588234791018" x2="180" y2="503.7588234791018" stroke-width="0.9"/>
<line x1="178.6" y1="500.10533081950757" x2="180" y2="500.10533081950757" stroke-width="0.9"/>
<line x1="178.6" y1="496.8827219053225" x2="180" y2="496.8827219053225" stroke-width="0.9"/>
<line x1="178.6" y1="412.0351102731692" x2="180" y2="412.0351102731692" stroke-width="0.9"/>
<line x1="178.6" y1="400.9413609526613" x2="180" y2="400.9413609526613" stroke-width="0.9"/>
<line x1="199.2" y1="557" x2="199.2" y2="559" stroke-width="1.1"/>
<line x1="236.8" y1="557" x2="236.8" y2="559" stroke-width="1.1"/>
<line x1="274.4" y1="557" x2="274.4" y2="559" stroke-width="1.1"/>
<line x1="312" y1="557" x2="312" y2="559" stroke-width="1.1"/>
<line x1="349.6" y1="557" x2="349.6" y2="559" stroke-width="1.1"/>
<line x1="387.3" y1="557" x2="387.3" y2="559" stroke-width="1.1"/>
<text x="171.0" y="435.9" font-size="10.0" text-anchor="end">10</text>
<text x="170.6" y="498.6" font-size="10.0" text-anchor="end">1</text>
<text x="170.6" y="561.7" font-size="10.0" text-anchor="end">0.1</text>
<text transform="translate(156.4,523.8) rotate(-90)" font-size="10.8" textLength="71" lengthAdjust="spacingAndGlyphs">CD4/CD8 ratio</text>
<line x1="297.2" y1="398.75" x2="297.2" y2="411" stroke-width="2.4" stroke-dasharray="4.5 2.9"/>
<line x1="297.2" y1="415.85" x2="297.2" y2="557" stroke-width="2.4" stroke-dasharray="4.5 2.76"/>
<line x1="199.4" y1="463.3" x2="199.4" y2="503.4" stroke-width="1.3"/>
<line x1="196.70000000000002" y1="463.3" x2="202.1" y2="463.3" stroke-width="1.3"/>
<line x1="196.70000000000002" y1="503.4" x2="202.1" y2="503.4" stroke-width="1.3"/>
<circle cx="199.4" cy="476.6" r="4.2" fill="#000"/>
<line x1="236.8" y1="476.0" x2="236.8" y2="485.0" stroke-width="1.3"/>
<line x1="234.10000000000002" y1="476.0" x2="239.5" y2="476.0" stroke-width="1.3"/>
<line x1="234.10000000000002" y1="485.0" x2="239.5" y2="485.0" stroke-width="1.3"/>
<circle cx="236.8" cy="479.5" r="4.2" fill="#000"/>
<line x1="274.4" y1="452.7" x2="274.4" y2="483.3" stroke-width="1.3"/>
<line x1="271.7" y1="452.7" x2="277.09999999999997" y2="452.7" stroke-width="1.3"/>
<line x1="271.7" y1="483.3" x2="277.09999999999997" y2="483.3" stroke-width="1.3"/>
<circle cx="274.4" cy="463.9" r="4.2" fill="#000"/>
<line x1="312.0" y1="427.5" x2="312.0" y2="441.5" stroke-width="1.3"/>
<line x1="309.3" y1="427.5" x2="314.7" y2="427.5" stroke-width="1.3"/>
<line x1="309.3" y1="441.5" x2="314.7" y2="441.5" stroke-width="1.3"/>
<circle cx="312.0" cy="433.7" r="4.2" fill="#000"/>
<line x1="349.6" y1="451.7" x2="349.6" y2="464.8" stroke-width="1.3"/>
<line x1="346.90000000000003" y1="451.7" x2="352.3" y2="451.7" stroke-width="1.3"/>
<line x1="346.90000000000003" y1="464.8" x2="352.3" y2="464.8" stroke-width="1.3"/>
<circle cx="349.6" cy="457.8" r="4.2" fill="#000"/>
<line x1="387.3" y1="410.4" x2="387.3" y2="426.1" stroke-width="1.3"/>
<line x1="384.6" y1="410.4" x2="390.0" y2="410.4" stroke-width="1.3"/>
<line x1="384.6" y1="426.1" x2="390.0" y2="426.1" stroke-width="1.3"/>
<circle cx="387.3" cy="419.3" r="4.2" fill="#000"/>
<text x="192.3" y="519.0" font-size="10.2">1.9</text>
<text x="229.3" y="519.0" font-size="10.2">1.7</text>
<text x="266.2" y="519.0" font-size="10.2">3.0</text>
<text x="303.2" y="519.0" font-size="10.2">9.0</text>
<text x="340.7" y="519.0" font-size="10.2">3.8</text>
<text x="378.7" y="519.0" font-size="10.2">15.4</text>
<text x="191.7" y="571.0" font-size="11.2">SPL</text>
<text x="232.6" y="571.0" font-size="11.2">LN</text>
<text x="268.2" y="571.0" font-size="11.2">mLN</text>
<text x="300.6" y="571.0" font-size="11.2">SPL</text>
<text x="342.9" y="571.0" font-size="11.2">LN</text>
<text x="380.3" y="571.0" font-size="11.2">mLN</text>
</svg></body></html>
